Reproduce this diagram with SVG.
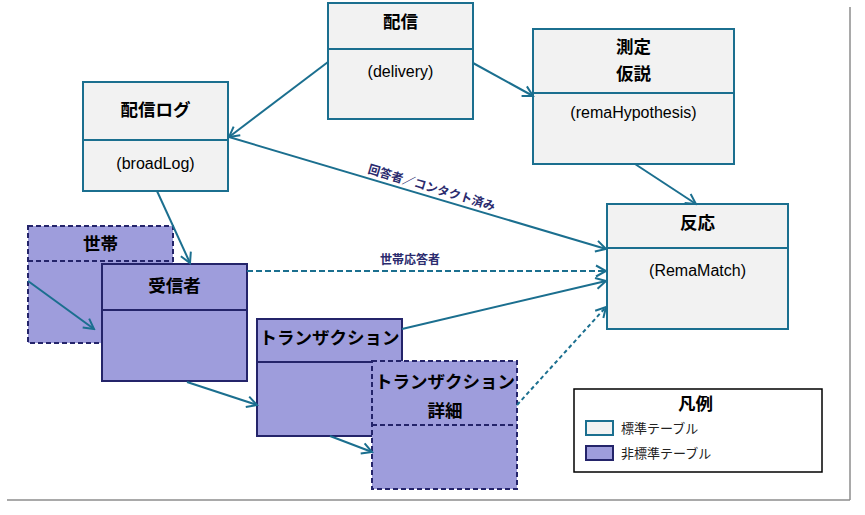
<svg xmlns="http://www.w3.org/2000/svg" width="865" height="515" viewBox="0 0 865 515">
<style>
  .std rect{fill:#f2f2f2;stroke:#1b6f8f;stroke-width:2}
  .std line{stroke:#1b6f8f;stroke-width:2}
  .non rect{fill:#9e9ddc;stroke:#24246a;stroke-width:2}
  .non line{stroke:#24246a;stroke-width:2}
  .dash rect,.dash line{stroke-dasharray:5,3}
  .t{font-family:"Noto Sans CJK JP","Liberation Sans",sans-serif;font-weight:bold;font-size:17.5px;fill:#000;text-anchor:middle}
  .s{font-family:"Liberation Sans",Arial,sans-serif;font-size:16px;fill:#000;text-anchor:middle}
  .lbl{font-family:"Noto Sans CJK JP","Liberation Sans",sans-serif;font-size:12px;font-weight:bold;fill:#2b2b6e;text-anchor:middle}
  .c{fill:none;stroke:#1b6f8f;stroke-width:2;marker-end:url(#arr)}
  .leg{font-family:"Noto Sans CJK JP","Liberation Sans",sans-serif;font-size:13px;fill:#222}
</style>
<defs>
  <marker id="arr" markerUnits="userSpaceOnUse" markerWidth="14" markerHeight="14" viewBox="0 0 14 14" refX="12" refY="7" orient="auto">
    <path d="M2,1.5 L12,7 L2,12.5" fill="none" stroke="#1b6f8f" stroke-width="2"/>
  </marker>
</defs>
<rect width="865" height="515" fill="#fff"/>
<g id="frame" stroke="#8c8c8c" stroke-width="1.5" fill="none">
  <line x1="850" y1="7" x2="850" y2="500"/>
  <line x1="7" y1="500" x2="850" y2="500"/>
</g>
<g id="delivery" class="std">
  <rect x="328" y="3" width="145" height="116"/>
  <line x1="328" y1="49" x2="473" y2="49"/>
  <text class="t" x="400.5" y="28">配信</text>
  <text class="s" x="400.5" y="77">(delivery)</text>
</g>
<g id="broadLog" class="std">
  <rect x="83" y="82" width="145" height="109"/>
  <line x1="83" y1="140" x2="228" y2="140"/>
  <text class="t" x="155.5" y="116">配信ログ</text>
  <text class="s" x="155.5" y="169">(broadLog)</text>
</g>
<g id="remaHypothesis" class="std">
  <rect x="533" y="29" width="201" height="135"/>
  <line x1="533" y1="93" x2="734" y2="93"/>
  <text class="t" x="633.5" y="53">測定</text>
  <text class="t" x="633.5" y="80">仮説</text>
  <text class="s" x="633.5" y="118">(remaHypothesis)</text>
</g>
<g id="RemaMatch" class="std">
  <rect x="607" y="204" width="181" height="125"/>
  <line x1="607" y1="248" x2="788" y2="248"/>
  <text class="t" x="697.5" y="229">反応</text>
  <text class="s" x="697.5" y="276">(RemaMatch)</text>
</g>
<g id="household" class="non dash">
  <rect x="28" y="226" width="145" height="117"/>
  <line x1="28" y1="261" x2="173" y2="261"/>
  <text class="t" x="100.5" y="250">世帯</text>
</g>
<g id="recipient" class="non">
  <rect x="102" y="264" width="145" height="117"/>
  <line x1="102" y1="310" x2="247" y2="310"/>
  <text class="t" x="174.5" y="292">受信者</text>
</g>
<g id="transaction" class="non">
  <rect x="257" y="319" width="145" height="117"/>
  <line x1="257" y1="362" x2="402" y2="362"/>
  <text class="t" x="329.5" y="344">トランザクション</text>
</g>
<g id="transactionDetail" class="non dash">
  <rect x="372" y="361" width="145" height="128"/>
  <line x1="372" y1="425" x2="517" y2="425"/>
  <text class="t" x="445" y="388">トランザクション</text>
  <text class="t" x="445" y="417">詳細</text>
</g>
<g id="connectors">
  <line class="c" x1="328" y1="62" x2="229" y2="137"/>
  <line class="c" x1="473" y1="63" x2="533" y2="96"/>
  <line class="c" x1="635" y1="164" x2="696" y2="204"/>
  <line class="c" x1="229" y1="137" x2="606" y2="249"/>
  <line class="c" x1="157" y1="191" x2="190" y2="263"/>
  <line class="c" x1="28" y1="281" x2="94" y2="329"/>
  <line class="c" x1="247" y1="271" x2="606" y2="271" stroke-dasharray="6,3"/>
  <line class="c" x1="402" y1="329" x2="606" y2="281"/>
  <line class="c" x1="187" y1="382" x2="257" y2="405"/>
  <line class="c" x1="330" y1="436" x2="372" y2="452"/>
  <line class="c" x1="517" y1="405" x2="606" y2="307" stroke-dasharray="4,3"/>
  <text class="lbl" x="410" y="264">世帯応答者</text>
  <text class="lbl" transform="translate(429,196.5) rotate(16.6)" x="0" y="-5">回答者／コンタクト済み</text>
</g>
<g id="legend">
  <rect x="574" y="389" width="248" height="83" fill="#fff" stroke="#000" stroke-width="1.5"/>
  <text class="t" x="695.5" y="410">凡例</text>
  <rect x="586" y="421" width="27" height="14" fill="#f2f2f2" stroke="#1b6f8f" stroke-width="2"/>
  <text class="leg" x="621" y="433">標準テーブル</text>
  <rect x="586" y="446" width="27" height="14" fill="#9e9ddc" stroke="#24246a" stroke-width="2"/>
  <text class="leg" x="621" y="458">非標準テーブル</text>
</g>
</svg>
